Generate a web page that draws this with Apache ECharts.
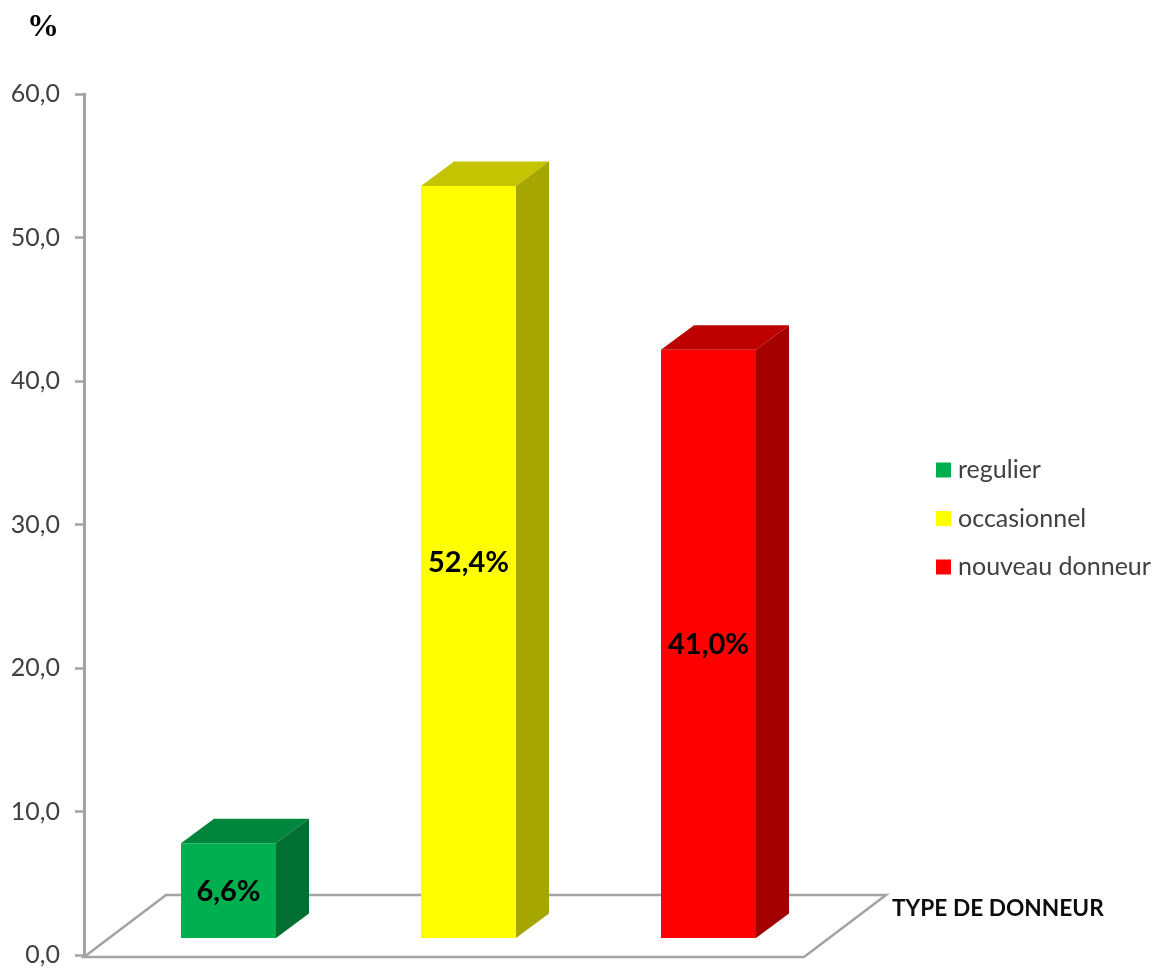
<!DOCTYPE html>
<html>
<head>
<meta charset="utf-8">
<title>Type de donneur</title>
<style>html,body{margin:0;padding:0;background:#fff}#chart{width:1162px;height:970px}</style>
<script src="https://cdn.jsdelivr.net/npm/echarts@6/dist/echarts.min.js"></script>
</head>
<body>
<div id="chart"></div>
<script>
// Donor types and their share, in percent
const categories = ['regulier', 'occasionnel', 'nouveau donneur'];
const values = [6.6, 52.4, 41.0];
const frontColors = ['#00b050', '#ffff00', '#ff0000'];
const topColors = ['#00853c', '#c4c400', '#bd0000'];
const sideColors = ['#006f32', '#a6a600', '#a50000'];
const yTicks = { min: 0, max: 60, interval: 10 };
const axisTitle = 'TYPE DE DONNEUR';
const unitTitle = '%';

// Oblique projection of the chart's floor and of each column
const DEPTH_X = 33, DEPTH_Y = 24.5;
const FLOOR_X = 82, FLOOR_Y = 60;
const BAR_LIFT = 17, BAR_SHIFT = 24.5, BAR_WIDTH = 95;
const GREY = '#a3a3a3';
const fmt = v => v.toFixed(1).replace('.', ',');

function drawFloor(params, api) {
  const a = api.coord([0, 0]);
  const cs = params.coordSys;
  const x0 = cs.x, x1 = cs.x + cs.width, y = a[1];
  return {
    type: 'group',
    children: [
      {
        type: 'polygon',
        shape: { points: [[x0, y + 2], [x1, y + 2], [x1 + FLOOR_X, y - FLOOR_Y], [x0 + FLOOR_X, y - FLOOR_Y]] },
        style: { fill: '#fff', stroke: GREY, lineWidth: 2.5 }
      },
      // Category axis title, set beside the floor's far corner
      {
        type: 'text', x: x1 + FLOOR_X + 6, y: y - 46,
        style: { text: axisTitle, fill: '#0d0d0d', align: 'left', verticalAlign: 'middle',
          font: 'bold 22.7px Lato, "Noto Sans", sans-serif' }
      }
    ]
  };
}

function drawColumn(i) {
  return function (params, api) {
    const top = api.coord([api.value(0), api.value(1)]);
    const base = api.coord([api.value(0), 0]);
    const h = base[1] - top[1];
    const l = top[0] + BAR_SHIFT - BAR_WIDTH / 2;
    const r = l + BAR_WIDTH;
    const b = base[1] - BAR_LIFT;
    const t = b - h;
    return {
      type: 'group',
      children: [
        { type: 'polygon', shape: { points: [[l, t], [r, t], [r + DEPTH_X, t - DEPTH_Y], [l + DEPTH_X, t - DEPTH_Y]] }, style: { fill: topColors[i] } },
        { type: 'polygon', shape: { points: [[r, t], [r + DEPTH_X, t - DEPTH_Y], [r + DEPTH_X, b - DEPTH_Y], [r, b]] }, style: { fill: sideColors[i] } },
        { type: 'rect', shape: { x: l, y: t, width: BAR_WIDTH, height: h }, style: { fill: frontColors[i] } },
        { type: 'text', x: (l + r) / 2, y: (t + b) / 2 + 1, style: {
            text: fmt(api.value(1)) + '%', fill: '#000', align: 'center', verticalAlign: 'middle',
            font: 'bold 29px Lato, "Noto Sans", sans-serif' } }
      ]
    };
  };
}

const chart = echarts.init(document.getElementById('chart'), null, { renderer: 'canvas' });
chart.setOption({
  animation: false,
  backgroundColor: '#fff',
  textStyle: { fontFamily: 'Lato, "Noto Sans", sans-serif' },
  grid: { left: 84, top: 94, width: 720, height: 861, containLabel: false },
  legend: {
    orient: 'vertical', left: 936, top: 456, padding: 0,
    itemWidth: 15, itemHeight: 15, itemGap: 20.5, icon: 'rect',
    data: categories,
    selectedMode: false,
    textStyle: { fontSize: 25, color: '#404040', padding: [0, 0, 0, 2], lineHeight: 28 }
  },
  xAxis: {
    type: 'category', data: categories,
    axisLine: { show: false }, axisTick: { show: false }, axisLabel: { show: false }
  },
  yAxis: {
    type: 'value', min: yTicks.min, max: yTicks.max, interval: yTicks.interval,
    splitLine: { show: false },
    axisLine: { show: true, lineStyle: { color: GREY, width: 3 } },
    axisTick: { show: true, length: 9, lineStyle: { color: GREY, width: 2.5 } },
    axisLabel: { margin: 24, fontSize: 25, color: '#404040', padding: [5, 0, 0, 0], formatter: v => fmt(v) },
    name: unitTitle, nameLocation: 'end', nameGap: 50,
    nameTextStyle: { fontFamily: '"Liberation Serif", serif', fontSize: 32, fontWeight: 'bold', color: '#000', padding: [0, 82, 0, 0] }
  },
  series: [
    { type: 'custom', name: '__floor', silent: true, renderItem: drawFloor, data: [[0, 0]], encode: { x: 0, y: 1 } }
  ].concat(categories.map((name, i) => ({
    type: 'custom', name, silent: true,
    itemStyle: { color: frontColors[i] },
    renderItem: drawColumn(i),
    encode: { x: 0, y: 1 },
    data: [[name, values[i]]]
  })))
});
</script>
</body>
</html>
